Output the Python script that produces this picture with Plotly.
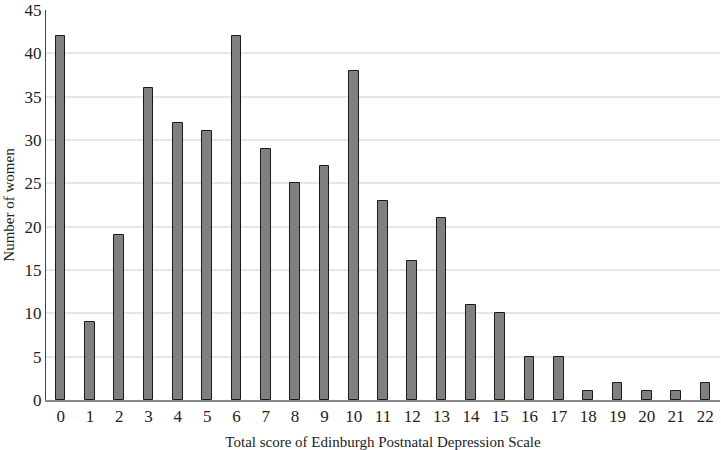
import plotly.graph_objects as go

scores = list(range(23))
tick_labels = [str(s) for s in scores]
women = [42, 9, 19, 36, 32, 31, 42, 29, 25, 27, 38, 23, 16, 21, 11, 10, 5, 5, 1, 2, 1, 1, 2]
y_ticks = [0, 5, 10, 15, 20, 25, 30, 35, 40, 45]

SERIF = "Liberation Serif"

fig = go.Figure(go.Bar(
    x=scores, y=women, width=0.33,
    marker=dict(color="#808080", line=dict(color="#1a1a1a", width=1)),
))
fig.update_layout(
    width=721, height=450,
    margin=dict(l=46, r=1, t=5, b=50),
    plot_bgcolor="white", paper_bgcolor="white",
    font=dict(family=SERIF, size=15, color="#222"),
    showlegend=False,
    bargap=0,
)
fig.update_xaxes(
    range=[-0.5, 22.5], tickmode="array", tickvals=scores, ticktext=tick_labels,
    tickfont=dict(family=SERIF, size=17, color="#222"),
    showgrid=False, showline=True, linecolor="#888", linewidth=1.5, ticks="",
    title=dict(text="Total score of Edinburgh Postnatal Depression Scale", standoff=12,
               font=dict(family=SERIF, size=15, color="#222")),
    zeroline=False, ticklabeloverflow="allow",
)
fig.update_yaxes(
    range=[0, 45], tickmode="array", tickvals=y_ticks, ticktext=[str(v) for v in y_ticks],
    showgrid=True, gridcolor="#e6e6e6", gridwidth=1.5,
    tickfont=dict(family=SERIF, size=17, color="#222"),
    showline=True, linecolor="#444", linewidth=1, ticks="",
    title=dict(text="Number of women", standoff=6,
               font=dict(family=SERIF, size=15, color="#222")),
    zeroline=False, ticklabeloverflow="allow",
)
fig.write_html("out.html", config={"displayModeBar": False},
               post_script="document.body.style.margin='0';document.body.style.overflow='hidden';")
